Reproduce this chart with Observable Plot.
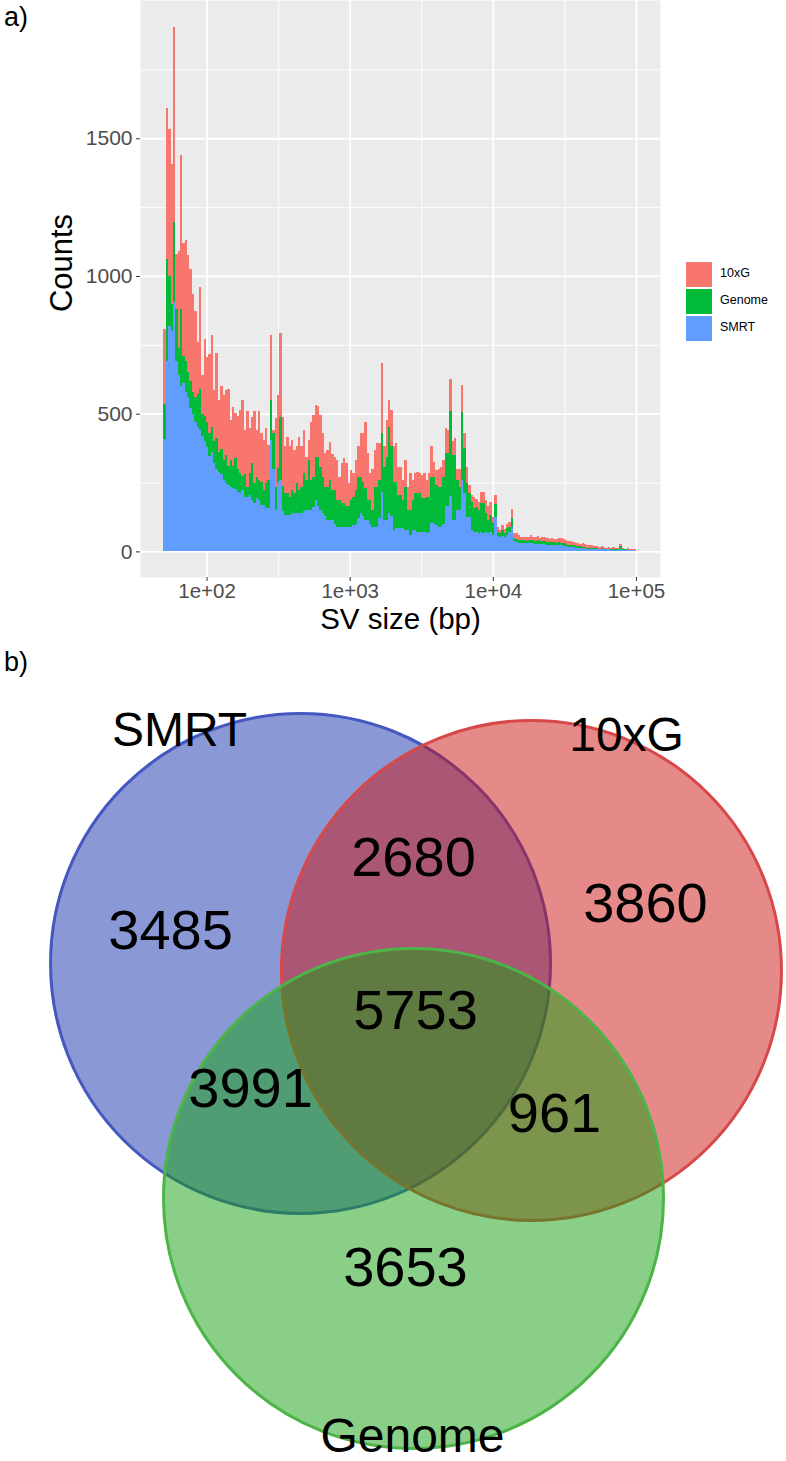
<!DOCTYPE html>
<html><head><meta charset="utf-8">
<script src="https://cdn.jsdelivr.net/npm/d3@7"></script>
<script src="https://cdn.jsdelivr.net/npm/@observablehq/plot@0.6"></script>
<style>
body{margin:0;background:#fff;font-family:"Liberation Sans",Arial,sans-serif;}
#page{position:relative;width:786px;height:1461px;overflow:hidden;background:#fff;}
#page svg{position:absolute;left:0;}
.lbl{position:absolute;color:#000;white-space:nowrap;}
.key{position:absolute;width:26px;height:25px;}
</style></head><body><div id="page"></div>
<script>
// ---------- data: panel a (stacked histogram of SV sizes, log-spaced bins) ----------
const seriesNames = ["SMRT", "Genome", "10xG"];          // stack order, bottom -> top
const seriesColors = ["#619CFF", "#00BA38", "#F8766D"];
const legendOrder = ["10xG", "Genome", "SMRT"];
const binCount = 200;
const sizeMin = 50, sizeMax = 1e5;
const smrtCounts = [
408,690,820,800,905, 690,640,600,610,580, 560,520,500,470,450, 440,420,400,380,345,
360,320,300,290,280, 260,250,240,235,230, 225,215,211,223,199, 199,205,187,175,195,
187,169,169,157,157, 405,300,151,253,260, 145,133,133,133,139, 139,139,139,139,145,
151,151,151,160,187, 163,150,139,130,114, 114,114,100,90,90, 90,90,90,90,90,
95,100,120,139,130, 114,114,100,90,90, 90,120,217,114,114, 139,130,78,84,84,
84,84,78,78,60, 78,78,72,70,72, 70,66,72,102,102, 95,90,90,100,163,
163,200,114,114,151, 151,259,211,126,126, 78,70,70,68,70, 68,70,65,70,60,
126,56,52,56,52, 58,70,90,36,34, 32,30,30,29,30, 30,29,28,28,27,
27,26,25,25,24, 24,22,24,22,20, 18,17,16,15,14, 13,12,12,11,10,
10,9,9,8,8, 8,7,7,7,6, 6,6,5,10,5, 5,4,4,4,4];
const genomeCounts = [
127,372,180,100,291, 190,100,280,100,110, 90,100,80,90,120, 150,80,90,90,85,
90,80,110,70,90, 70,100,70,95,80, 115,85,73,49,81, 36,79,133,72,75,
72,84,54,90,102, 145,129,84,49,227, 93,78,78,66,84, 72,108,84,96,139,
108,181,108,110,157, 181,158,132,105,121, 145,109,123,97,97, 85,85,73,73,97,
104,123,151,132,123, 116,73,87,61,145, 145,139,212,194,230, 314,251,175,169,121,
121,103,157,73,91, 109,133,139,141,121, 123,133,127,169,169, 145,145,145,171,193,
193,310,236,236,108, 84,248,163,121,85, 103,87,90,83,105, 107,69,49,63,42,
46,16,14,22,14, 26,20,30,12,11, 10,10,10,9,10, 12,11,10,12,9,
11,10,9,9,10, 10,10,10,8,10, 8,7,6,9,6, 5,6,4,5,4,
4,4,3,3,2, 4,3,2,3,2, 4,2,3,8,3, 2,2,2,1,2];
const tenxgCounts = [
271,547,535,508,709, 200,350,560,410,440, 425,405,354,312,190, 370,141,282,234,286,
337,185,312,188,230, 237,235,278,146,213, 161,192,229,278,161, 273,163,169,261,171,
249,176,182,200,128, 236,12,248,266,307, 251,170,203,182,182, 157,134,194,146,157,
85,73,212,226,188, 184,188,158,121,133, 139,131,121,145,84, 145,163,157,84,109,
85,109,110,158,177, 241,169,97,149,133, 158,134,254,73,133, 97,132,128,139,103,
103,72,97,84,133, 73,73,79,73,85, 91,61,85,110,55, 55,65,73,61,91,
84,115,50,60,41, 65,97,55,61,29, 24,39,29,30,39, 42,48,49,48,24,
33,18,12,18,14, 16,18,33,18,23, 18,14,14,14,14, 16,14,14,16,14,
14,16,14,12,14, 12,12,16,18,16, 14,14,14,10,12, 12,10,14,10,10,
8,11,8,7,6, 6,6,5,6,6, 5,4,6,8,4, 3,6,4,4,4];
const xTicks = [1e2, 1e3, 1e4, 1e5];
const xTickLabels = ["1e+02", "1e+03", "1e+04", "1e+05"];
const xMinorTicks = [10 ** 2.5, 10 ** 3.5, 10 ** 4.5];
const yTicks = [0, 500, 1000, 1500];
const yTickLabels = ["0", "500", "1000", "1500"];
const yMinorTicks = [250, 750, 1250, 1750];
const xTitle = "SV size (bp)";
const yTitle = "Counts";

// ---------- data: panel b (Venn diagram) ----------
const vennSets = ["SMRT", "10xG", "Genome"];
const vennRegionNames = ["SMRT only", "SMRT & 10xG", "10xG only", "all three", "SMRT & Genome", "10xG & Genome", "Genome only"];
const vennRegionCounts = [3485, 2680, 3860, 5753, 3991, 961, 3653];

// ---------- layout (not data) ----------
const vennFill = {SMRT: "#1531AD", "10xG": "#CB1313", Genome: "#159F0F"};
const vennStroke = {SMRT: "#4458C0", "10xG": "#D84848", Genome: "#4DB548"};
const vennCenter = {SMRT: [-0.458, 0.307], "10xG": [0.462, 0.279], Genome: [-0.008, -0.629]};
const vennSetLabelPos = {SMRT: [-0.94, 1.235], "10xG": [0.841, 1.215], Genome: [-0.012, -1.578]};
const vennRegionPos = [[-0.976, 0.434], [-0.008, 0.725], [0.916, 0.542], [0, 0.116], [-0.657, -0.195], [0.554, -0.295], [-0.04, -0.908]];

const page = document.getElementById("page");
const FONT = "Liberation Sans, Arial, Helvetica, sans-serif";
const lookup = (ticks, labels) => d => {
  const i = ticks.findIndex(v => Math.abs(v - d) <= Math.abs(v) * 1e-9 + 1e-12);
  return i < 0 ? "" : labels[i];
};

// build histogram table
const lo = Math.log10(sizeMin), hi = Math.log10(sizeMax), bw = (hi - lo) / binCount;
const seriesValues = {SMRT: smrtCounts, Genome: genomeCounts, "10xG": tenxgCounts};
const rows = [];
for (const s of seriesNames) {
  seriesValues[s].forEach((c, k) => rows.push({series: s, x1: 10 ** (lo + k * bw), x2: 10 ** (lo + (k + 1) * bw), count: c}));
}

const histo = Plot.plot({
  width: 786, height: 640,
  marginLeft: 140, marginRight: 126, marginTop: 0, marginBottom: 63,
  style: {fontFamily: FONT, background: "transparent", overflow: "visible"},
  x: {type: "log", domain: [10 ** 1.535, 10 ** 5.168]},
  y: {domain: [-93, 2002]},
  color: {domain: seriesNames, range: seriesColors},
  marks: [
    Plot.frame({fill: "#EBEBEB", stroke: null}),
    Plot.ruleY(yMinorTicks, {stroke: "#fff", strokeWidth: 0.9}),
    Plot.ruleX(xMinorTicks, {stroke: "#fff", strokeWidth: 0.9}),
    Plot.ruleY(yTicks, {stroke: "#fff", strokeWidth: 1.8}),
    Plot.ruleX(xTicks, {stroke: "#fff", strokeWidth: 1.8}),
    Plot.rectY(rows, {x1: "x1", x2: "x2", y: "count", fill: "series", shapeRendering: "crispEdges"}),
    Plot.axisY(yTicks, {tickSize: 4, tickPadding: 4, fontSize: 21, fill: "#4D4D4D", stroke: "#333", tickFormat: lookup(yTicks, yTickLabels), label: null}),
    Plot.axisX(xTicks, {tickSize: 4, tickPadding: 2, fontSize: 20.5, fill: "#4D4D4D", stroke: "#333", tickFormat: lookup(xTicks, xTickLabels), label: null}),
    Plot.text([yTitle], {frameAnchor: "left", textAnchor: "middle", lineAnchor: "middle", dx: -78, dy: -26, rotate: -90, fontSize: 31, fill: "#000"}),
    Plot.text([xTitle], {frameAnchor: "bottom", textAnchor: "middle", lineAnchor: "middle", dy: 42, fontSize: 29.5, fill: "#000"})
  ]
});
histo.style.top = "0px";
page.appendChild(histo);

// legend
legendOrder.forEach((s, i) => {
  const k = document.createElement("div");
  k.className = "key";
  k.style.left = "686px"; k.style.top = (262 + i * 27) + "px";
  k.style.background = seriesColors[seriesNames.indexOf(s)];
  page.appendChild(k);
  const t = document.createElement("div");
  t.className = "lbl";
  t.textContent = s;
  t.style.left = "720px"; t.style.top = (266 + i * 27) + "px"; t.style.fontSize = "12.5px";
  page.appendChild(t);
});

// panel letters
[["a)", 4, 2], ["b)", 4, 647]].forEach(([txt, x, y]) => {
  const d = document.createElement("div");
  d.className = "lbl"; d.textContent = txt;
  d.style.left = x + "px"; d.style.top = y + "px"; d.style.fontSize = "27px";
  page.appendChild(d);
});

// Venn
const vennTable = vennSets.map(s => ({set: s, cx: vennCenter[s][0], cy: vennCenter[s][1]}));
const regionTable = vennRegionCounts.map((c, i) => ({name: vennRegionNames[i], count: c, px: vennRegionPos[i][0], py: vennRegionPos[i][1]}));
const labelTable = vennSets.map(s => ({set: s, px: vennSetLabelPos[s][0], py: vennSetLabelPos[s][1]}));
const venn = Plot.plot({
  width: 786, height: 831, margin: 0,
  style: {fontFamily: FONT, background: "transparent", overflow: "visible"},
  x: {domain: [-415 / 251, 371 / 251], range: [0, 786], axis: null},
  y: {domain: [-421 / 251, 410 / 251], range: [831, 0], axis: null},
  marks: [
    Plot.dot(vennTable, {x: "cx", y: "cy", r: 250, fill: d => vennFill[d.set], fillOpacity: 0.5, stroke: d => vennStroke[d.set], strokeWidth: 3}),
    Plot.text(regionTable, {x: "px", y: "py", text: d => String(d.count), fontSize: 56, fill: "#000"}),
    Plot.text(labelTable, {x: "px", y: "py", text: "set", fontSize: 48, fill: "#000"})
  ]
});
venn.style.top = "630px";
page.appendChild(venn);
</script></body></html>
